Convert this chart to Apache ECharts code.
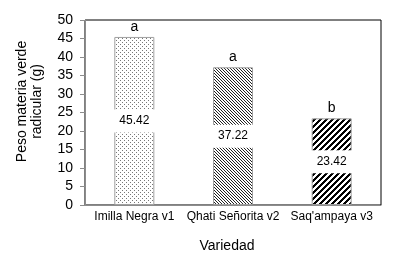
<!DOCTYPE html>
<html>
<head>
<meta charset="utf-8">
<script src="https://cdn.jsdelivr.net/npm/echarts@6/dist/echarts.min.js"></script>
<style>
  html, body { margin: 0; padding: 0; background: #fff; }
  #chart { width: 397px; height: 254px; }
</style>
</head>
<body>
<div id="chart"></div>
<script>
const categories = ["Imilla Negra v1", "Qhati Señorita v2", "Saq'ampaya v3"];
const values = [45.42, 37.22, 23.42];
const letters = ["a", "a", "b"];
const yTicks = { min: 0, max: 50, interval: 5 };

const fontFamily = "Liberation Sans, Arial, sans-serif";
const axisGray = "#8c8c8c";

function makeTile(size, paint) {
  const canvas = document.createElement("canvas");
  canvas.width = size;
  canvas.height = size;
  const ctx = canvas.getContext("2d");
  ctx.fillStyle = "#fff";
  ctx.fillRect(0, 0, size, size);
  paint(ctx, size);
  return canvas;
}

// grey dots
const dotTile = makeTile(4, (ctx) => {
  ctx.fillStyle = "#777";
  ctx.fillRect(0, 0, 1, 1);
  ctx.fillRect(2, 2, 1, 1);
});

// thin "\" hatching
const thinHatch = makeTile(3, (ctx, size) => {
  ctx.fillStyle = "#222";
  for (let i = 0; i < size; i += 1) ctx.fillRect(i, i, 1, 1);
});

// thick "/" hatching
const thickHatch = makeTile(6, (ctx, size) => {
  ctx.fillStyle = "#000";
  for (let x = 0; x < size; x += 1) {
    for (let y = 0; y < size; y += 1) {
      if ((x + y) % size < 3) ctx.fillRect(x, y, 1, 1);
    }
  }
});

const patterns = [dotTile, thinHatch, thickHatch];

const chart = echarts.init(document.getElementById("chart"), null, { renderer: "canvas" });

chart.setOption({
  animation: false,
  backgroundColor: "#fff",
  textStyle: { fontFamily, color: "#000" },
  grid: {
    left: 85, right: 16, top: 20, bottom: 49,
    outerBoundsMode: "none",
    containLabel: false,
    show: true, borderColor: "#000", borderWidth: 1, backgroundColor: "transparent",
  },
  xAxis: {
    type: "category",
    data: categories,
    name: "Variedad",
    nameLocation: "middle",
    nameGap: 34,
    nameTextStyle: { fontSize: 14, color: "#000", fontFamily, padding: [0, 12, 0, 0] },
    axisLine: { lineStyle: { color: axisGray } },
    axisTick: { show: false },
    axisLabel: { fontSize: 12, color: "#000", margin: 6, fontFamily, interval: 0 },
    splitLine: { show: false },
  },
  yAxis: {
    type: "value",
    min: yTicks.min,
    max: yTicks.max,
    interval: yTicks.interval,
    name: "Peso materia verde\nradicular (g)",
    nameLocation: "middle",
    nameGap: 40,
    nameTextStyle: { fontSize: 14, color: "#000", fontFamily, lineHeight: 15, padding: [0, 0, 0, 22] },
    axisLine: { show: true, lineStyle: { color: axisGray } },
    axisTick: { show: true, inside: false, length: 5, lineStyle: { color: axisGray } },
    axisLabel: { fontSize: 14, color: "#000", margin: 12, fontFamily },
    splitLine: { show: false },
  },
  series: [
    {
      type: "bar",
      barWidth: 40,
      data: values.map((v, i) => ({
        value: v,
        itemStyle: {
          color: { image: patterns[i], repeat: "repeat" },
          borderColor: "#a0a0a0",
          borderWidth: 1,
        },
      })),
      label: {
        show: true,
        position: "inside",
        formatter: (p) => p.value.toFixed(2),
        fontSize: 12,
        color: "#000",
        fontFamily,
        backgroundColor: "#fff",
        width: 46,
        align: "center",
        padding: [5, 0, 5, 0],
        lineHeight: 13,
      },
      z: 2,
    },
    {
      type: "bar",
      barWidth: 40,
      barGap: "-100%",
      data: values,
      itemStyle: { color: "transparent" },
      label: {
        show: true,
        position: "top",
        distance: 3,
        formatter: (p) => letters[p.dataIndex],
        fontSize: 14,
        color: "#000",
        fontFamily,
      },
      silent: true,
      z: 1,
    },
  ],
});
</script>
</body>
</html>
